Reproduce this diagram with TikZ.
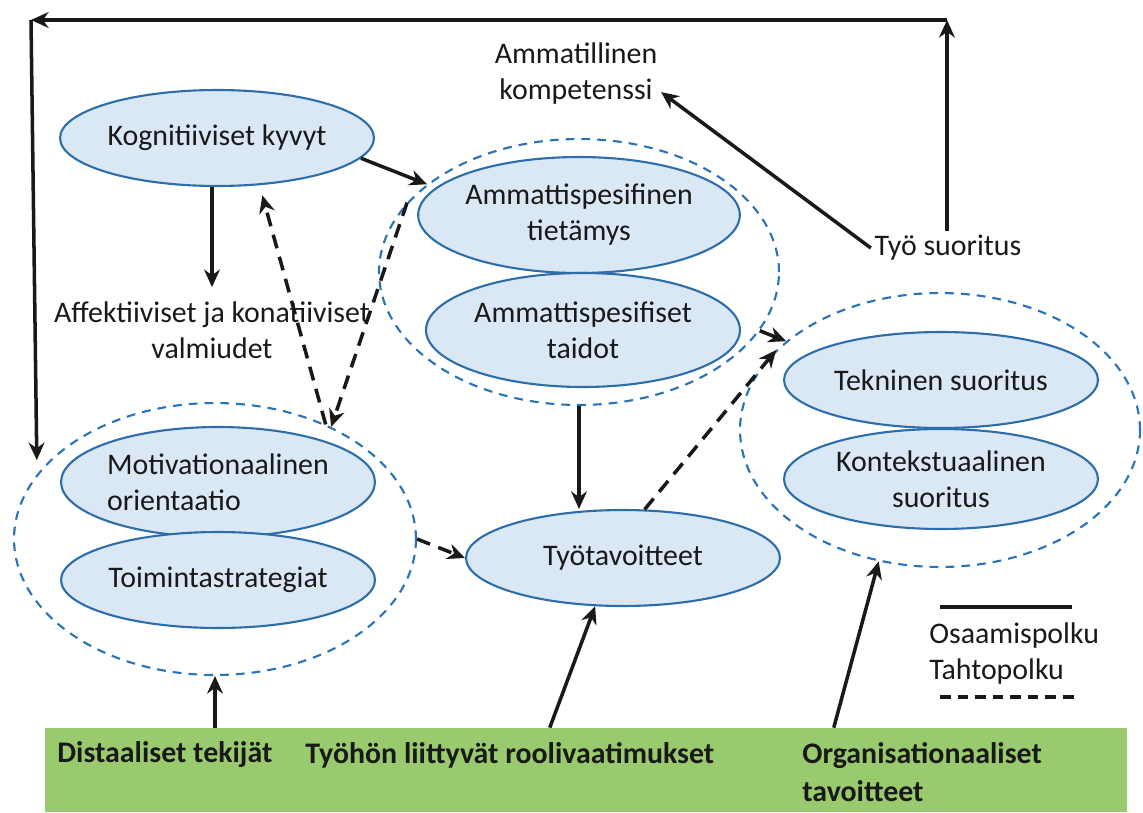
\documentclass[tikz,border=0pt]{standalone}
\usepackage{fontspec}
\setmainfont{Carlito}
\usetikzlibrary{shapes.geometric,arrows.meta,calc}
\definecolor{ellfill}{RGB}{218,231,245}
\definecolor{elldraw}{RGB}{45,110,170}
\definecolor{grpdash}{RGB}{40,115,185}
\definecolor{barfill}{RGB}{153,203,110}
\definecolor{ink}{RGB}{25,25,25}
\begin{document}
\begin{tikzpicture}[x=0.02cm,y=-0.02cm,
  font=\fontsize{17}{20.5}\selectfont, text=ink,
  box/.style={ellipse, draw=elldraw, fill=ellfill, line width=1.2pt,
    minimum width=6.28cm, minimum height=1.92cm, inner sep=0pt, align=center},
  grp/.style={ellipse, draw=grpdash, line width=1.2pt,
    dash pattern=on 5pt off 4pt, inner sep=0pt},
  arr/.style={draw=ink, line width=2pt, -{Stealth[length=10pt,width=9pt]}},
  darr/.style={arr, dash pattern=on 8pt off 5pt},
  lbl/.style={align=center, inner sep=2pt},
  bartext/.style={font=\fontsize{17}{21.6}\selectfont\bfseries, inner sep=0pt,
    anchor=west, align=left}]
\useasboundingbox (0,0) rectangle (1143,812);

% dashed grouping ellipses
\node[grp, minimum width=8.0cm,  minimum height=5.32cm] (ammg) at (579,272) {};
\node[grp, minimum width=8.04cm, minimum height=5.44cm] (motg) at (215,539) {};
\node[grp, minimum width=8.0cm,  minimum height=5.48cm] (tekg) at (940,430) {};

% concept ellipses
\node[box] (kog) at (217,138) {Kognitiiviset kyvyt};
\node[box, minimum height=2.32cm] (tiet) at (579,215) {Ammattispesifinen\\tietämys};
\node[box, minimum height=2.28cm] (taid) at (583,330) {Ammattispesifiset\\taidot};
\node[box, minimum height=2.2cm, align=left] (mot) at (218,482) {Motivationaalinen\\orientaatio};
\node[box] (toim) at (218,580) {Toimintastrategiat};
\node[box] (tyot) at (623,558) {Työtavoitteet};
\node[box] (tek) at (941,380) {Tekninen suoritus};
\node[box, minimum height=2.0cm] (kont) at (941,479) {Kontekstuaalinen\\suoritus};

% free labels
\node[lbl] (komp) at (576,74) {Ammatillinen\\kompetenssi};
\node[lbl] (tyosu) at (948,248) {Työ suoritus};
\node[lbl, inner ysep=8pt] (aff) at (212,330) {Affektiiviset ja konatiiviset\\valmiudet};

% bottom bar
\node[fill=barfill, minimum width=21.64cm, minimum height=1.68cm, inner sep=0pt] (bar) at (586,770) {};
\node[bartext] (dist) at (57,755) {Distaaliset tekijät};
\node[bartext] (rooli) at (305,755) {Työhön liittyvät roolivaatimukset};
\node[bartext, anchor=north west] (org) at (802,742) {Organisationaaliset\\tavoitteet};

% legend
\node[anchor=west, inner sep=0pt] (leg1) at (929,636) {Osaamispolku};
\node[anchor=west, inner sep=0pt] (leg2) at (929,672) {Tahtopolku};
\draw[draw=ink, line width=2pt] (940,607) -- (1072,607);
\draw[draw=ink, line width=2pt, dash pattern=on 6pt off 4pt] (940,697) -- (1074,697);

% solid paths
\draw[arr] (kog.-8) -- (ammg.150);
\draw[arr] (kog.south -| aff.north) -- (aff.north);
\draw[arr] (ammg.south) -- (ammg.south |- tyot.north);
\draw[arr] (ammg.-18) -- (tekg.150);
\draw[arr] (tyosu.west) -- (komp.-12);

% feedback loop over the top
\coordinate (tr) at (947,20);
\coordinate (tl) at (31,20);
\draw[arr] (tyosu.north -| tr) -- (tr);
\draw[arr] (tr) -- (tl);
\draw[arr, shorten >=8pt] (tl) -- (motg.160);

% dashed paths
\draw[darr, shorten >=6pt] (motg.46) -- (kog.-48);
\draw[darr] (ammg.158) -- (motg.44);
\draw[darr] (motg.0) -- (tyot.west);
\draw[darr] (tyot.66) -- (tekg.154);

% inputs from the bar
\draw[arr] (bar.north -| motg.south) -- (motg.south);
\draw[arr] ($(bar.north west)+(505,0)$) -- (tyot.-120);
\draw[arr] ($(bar.north west)+(789,0)$) -- (tekg.-115);
\end{tikzpicture}
\end{document}
